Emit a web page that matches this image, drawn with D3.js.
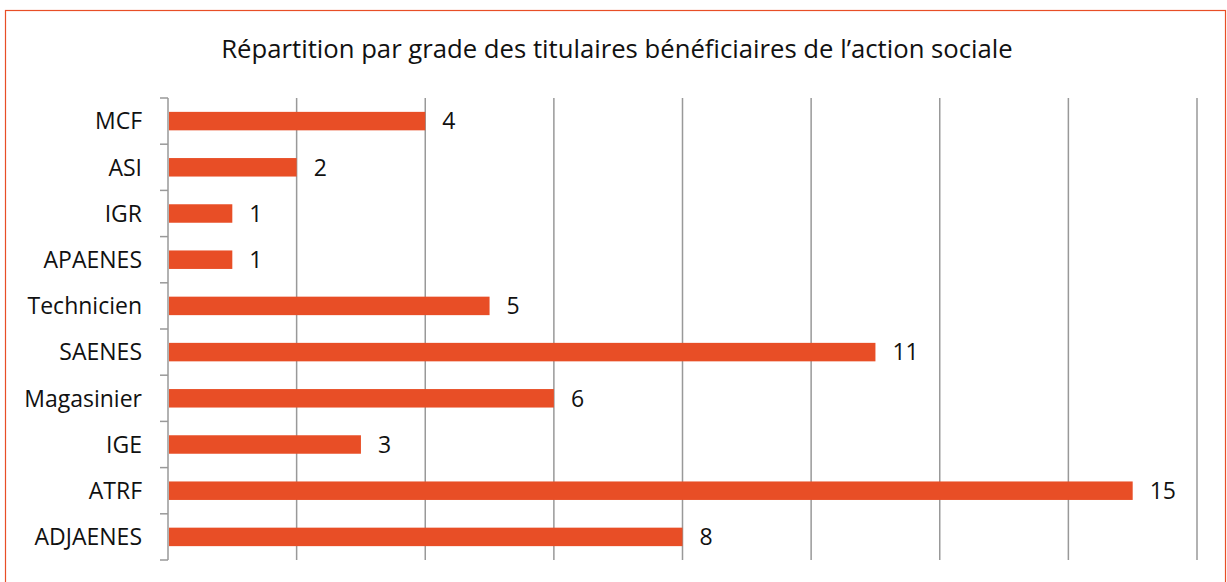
<!DOCTYPE html>
<html>
<head>
<meta charset="utf-8">
<script src="https://cdn.jsdelivr.net/npm/d3@7"></script>
<style>
  html, body { margin: 0; padding: 0; background: #fff; }
  svg { display: block; }
</style>
</head>
<body>
<svg id="chart" width="1227" height="582"></svg>
<script>
// Grades listed from top to bottom, with the number of beneficiaries
const categories = ["MCF", "ASI", "IGR", "APAENES", "Technicien", "SAENES", "Magasinier", "IGE", "ATRF", "ADJAENES"];
const values = [4, 2, 1, 1, 5, 11, 6, 3, 15, 8];
const gridTicks = [0, 2, 4, 6, 8, 10, 12, 14, 16];
const title = "Répartition par grade des titulaires bénéficiaires de l’action sociale";

const W = 1227, H = 582;
const FONT = "'Open Sans', Lato, sans-serif";
const BAR = "#E84E26";

const svg = d3.select("#chart");

// Outer frame
svg.append("rect")
  .attr("x", 5.5).attr("y", 10.5)
  .attr("width", W - 7).attr("height", H)
  .attr("fill", "none").attr("stroke", BAR).attr("stroke-width", 1.2);

// Title
svg.append("text")
  .attr("x", 617).attr("y", 58)
  .attr("text-anchor", "middle")
  .attr("font-family", FONT).attr("font-size", 25.7)
  .attr("fill", "#111")
  .text(title);

const x = d3.scaleLinear().domain([0, 16]).range([168, 1197]);
const y = d3.scaleBand().domain(categories).range([98, 560]).paddingInner(0.6).paddingOuter(0.3);

// Vertical gridlines
svg.append("g")
  .selectAll("line")
  .data(gridTicks.slice(1))
  .join("line")
  .attr("x1", d => x(d)).attr("x2", d => x(d))
  .attr("y1", 98).attr("y2", 560)
  .attr("stroke", "#999").attr("stroke-width", 1.5);

// Category axis with ticks at band boundaries
const yAxis = svg.append("g").attr("transform", `translate(${x(0)},0)`);
yAxis.append("line")
  .attr("x1", 0).attr("x2", 0).attr("y1", 98).attr("y2", 560)
  .attr("stroke", "#999").attr("stroke-width", 1.5);
const step = (560 - 98) / categories.length;
yAxis.selectAll("line.tick")
  .data(d3.range(categories.length + 1))
  .join("line")
  .attr("class", "tick")
  .attr("x1", -8).attr("x2", 0)
  .attr("y1", i => 98 + i * step).attr("y2", i => 98 + i * step)
  .attr("stroke", "#999").attr("stroke-width", 1.5);
yAxis.selectAll("text")
  .data(categories)
  .join("text")
  .attr("x", -26)
  .attr("y", d => y(d) + y.bandwidth() / 2)
  .attr("dy", "0.36em")
  .attr("text-anchor", "end")
  .attr("font-family", FONT).attr("font-size", 23)
  .attr("fill", "#111")
  .text(d => d);

const data = categories.map((c, i) => ({ c, v: values[i] }));

// Bars
svg.append("g")
  .selectAll("rect")
  .data(data)
  .join("rect")
  .attr("x", x(0) + 1)
  .attr("y", d => y(d.c))
  .attr("width", d => x(d.v) - x(0) - 1)
  .attr("height", y.bandwidth())
  .attr("fill", BAR);

// Value labels
svg.append("g")
  .selectAll("text")
  .data(data)
  .join("text")
  .attr("x", d => x(d.v) + 17)
  .attr("y", d => y(d.c) + y.bandwidth() / 2)
  .attr("dy", "0.36em")
  .attr("font-family", FONT).attr("font-size", 23)
  .attr("fill", "#111")
  .text(d => d.v);
</script>
</body>
</html>
